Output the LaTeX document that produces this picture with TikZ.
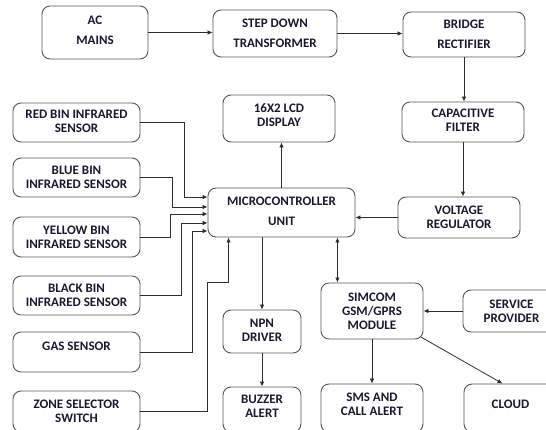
\documentclass[tikz,border=0pt]{standalone}
\usepackage{fontspec}
\setmainfont{Carlito}
\usetikzlibrary{calc, arrows.meta}
\definecolor{boxline}{RGB}{85,85,85}
\definecolor{wireline}{RGB}{45,45,45}
\definecolor{labeltext}{RGB}{25,25,45}
\tikzset{%
    my block/.style={%
        draw=boxline,
        line width=0.9pt,
        rounded corners=8pt,
        align=center,
        inner sep=0pt,
        text=labeltext,
        font=\bfseries\fontsize{13}{14}\selectfont
    },%
    my size/.style 2 args={minimum width=#1pt, minimum height=#2pt},%
    my lift/.style={text depth=#1pt},%
    my arrow/.style={%
        draw=wireline,
        line width=0.8pt,
        -{Latex[length=5pt,width=4.5pt]}
    },%
    my both/.style={my arrow, {Latex[length=5pt,width=4.5pt]}-{Latex[length=5pt,width=4.5pt]}}%
}

\begin{document}
\begin{tikzpicture}[x=1pt, y=-1pt]
\useasboundingbox (0,0) rectangle (546,430);
\clip (0,0) rectangle (546,430);

% power supply
\node[my block, my size={106}{53}, my lift=4] (ac) at (95,32.5) {AC\\[6pt]MAINS};
\node[my block, my size={124}{47}] (step) at (275,33.5) {STEP DOWN\\[6pt]TRANSFORMER};
\node[my block, my size={122}{45}] (bridge) at (464,34.5) {BRIDGE\\[6pt]RECTIFIER};
\node[my block, my size={122}{40}, my lift=4] (cap) at (463,122) {CAPACITIVE\\FILTER};
\node[my block, my size={122}{41}] (volt) at (459,217.5) {VOLTAGE\\REGULATOR};

% controller and display
\node[my block, my size={147}{49}, my lift=3] (mcu) at (281.5,212.5) {MICROCONTROLLER\\[6pt]UNIT};
\node[my block, my size={112}{47}, my lift=7] (lcd) at (279,118.5) {16X2 LCD\\DISPLAY};

% inputs
\node[my block, my size={127}{39}, my lift=3] (red) at (76.5,122.5) {RED BIN INFRARED\\SENSOR};
\node[my block, my size={127}{39}] (blue) at (76.5,177.5) {BLUE BIN\\INFRARED SENSOR};
\node[my block, my size={127}{40}] (yellow) at (76.5,237) {YELLOW BIN\\INFRARED SENSOR};
\node[my block, my size={127}{39}] (black) at (76.5,295.5) {BLACK BIN\\INFRARED SENSOR};
\node[my block, my size={127}{40}, my lift=12] (gas) at (76.5,352) {GAS SENSOR};
\node[my block, my size={127}{41}] (zone) at (76.5,411.5) {ZONE SELECTOR\\SWITCH};

% outputs
\node[my block, my size={78}{43}, my lift=3] (npn) at (262,331.5) {NPN\\DRIVER};
\node[my block, my size={78}{45}, my lift=6] (buzzer) at (262,409.5) {BUZZER\\ALERT};
\node[my block, my size={102}{56}] (simcom) at (372,311) {SIMCOM\\GSM/GPRS\\MODULE};
\node[my block, my size={97}{42}] (service) at (511.5,311) {SERVICE\\PROVIDER};
\node[my block, my size={102}{48}, my lift=8] (sms) at (372,408) {SMS AND\\CALL ALERT};
\node[my block, my size={93}{48}, my lift=8] (cloud) at (510.5,408) {CLOUD};

\draw[my arrow] (ac.east) -- (ac.east -| step.west);
\draw[my arrow] (step.east) -- (step.east -| bridge.west);
\draw[my arrow] (bridge.south) -- (bridge.south |- cap.north);
\draw[my arrow] (cap.south) -- (cap.south |- volt.north);
\draw[my arrow] (volt.west) -- (volt.west -| mcu.east);
\draw[my arrow] (mcu.north) -- (mcu.north |- lcd.south);

\foreach \s/\dx/\dy in {red/-23/-15.5, blue/-35/-5.5, yellow/-37/1.5, black/-26/10.5, gas/-15/18.5}
    \draw[my arrow] (\s.east) -| ($(mcu.west)+(\dx,\dy)$) -- ($(mcu.west)+(0,\dy)$);
\draw[my arrow] (zone.east) -| ($(mcu.south west)+(0,45)$) -| ($(mcu.south west)+(21,0)$);

\draw[my arrow] (mcu.south -| npn) -- (npn.north);
\draw[my arrow] (npn.south) -- (buzzer.north);
\coordinate (mcu gsm) at ($(mcu.south east)+(-18,0)$);
\draw[my both] (mcu gsm) -- (mcu gsm |- simcom.north);
\draw[my arrow] (service.west) -- (service.west -| simcom.east);
\draw[my arrow] (simcom.south) -- (sms.north);
\draw[my arrow] ([xshift=-2.3pt,yshift=2.3pt]simcom.south east) -- ([xshift=-8pt]cloud.north);
\end{tikzpicture}
\end{document}
